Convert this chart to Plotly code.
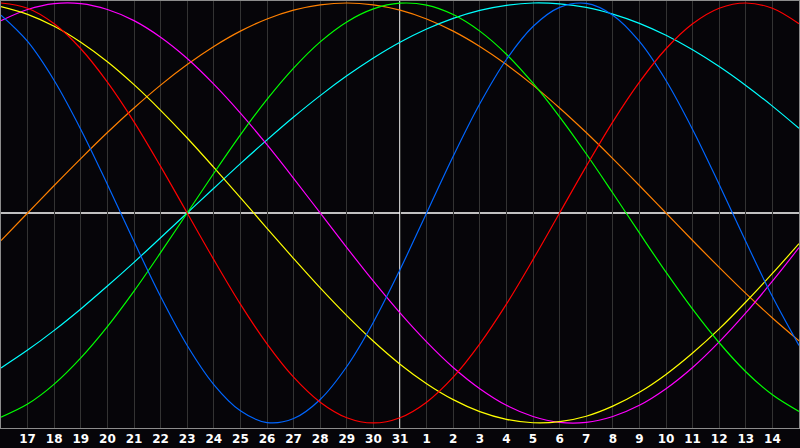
import plotly.graph_objects as go

# day index 0..30 (16th .. 15th of next month)
days = list(range(31))
tick_vals = list(range(1, 30))
tick_labels = ["17", "18", "19", "20", "21", "22", "23", "24", "25", "26", "27", "28", "29", "30", "31",
               "1", "2", "3", "4", "5", "6", "7", "8", "9", "10", "11", "12", "13", "14"]
today_index = 15

physical = [0.942, 0.817, 0.631, 0.398, 0.136, -0.136, -0.398, -0.631, -0.817, -0.942, -0.998,
            -0.979, -0.888, -0.731, -0.520, -0.270, 0.0, 0.270, 0.520, 0.731, 0.888, 0.979, 0.998,
            0.942, 0.817, 0.631, 0.398, 0.136, -0.136, -0.398, -0.631]
emotional = [1.0, 0.975, 0.901, 0.782, 0.623, 0.434, 0.222, 0.0, -0.222, -0.434, -0.623, -0.782,
             -0.901, -0.975, -1.0, -0.975, -0.901, -0.782, -0.623, -0.434, -0.222, 0.0, 0.222, 0.434,
             0.623, 0.782, 0.901, 0.975, 1.0, 0.975, 0.901]
intellectual = [-0.972, -0.910, -0.815, -0.690, -0.541, -0.372, -0.189, 0.0, 0.189, 0.372, 0.541,
                0.690, 0.815, 0.910, 0.972, 0.999, 0.990, 0.945, 0.866, 0.756, 0.618, 0.458, 0.282,
                0.095, -0.095, -0.282, -0.458, -0.618, -0.756, -0.866, -0.945]
intuitive = [0.916, 0.969, 0.997, 0.997, 0.969, 0.916, 0.837, 0.736, 0.614, 0.476, 0.325, 0.165, 0.0,
             -0.165, -0.325, -0.476, -0.614, -0.736, -0.837, -0.916, -0.969, -0.997, -0.997, -0.969,
             -0.916, -0.837, -0.736, -0.614, -0.476, -0.325, -0.165]
aesthetic = [0.983, 0.946, 0.889, 0.813, 0.720, 0.611, 0.489, 0.357, 0.217, 0.073, -0.073, -0.217,
             -0.357, -0.489, -0.611, -0.720, -0.813, -0.889, -0.946, -0.983, -0.999, -0.994, -0.968,
             -0.920, -0.854, -0.769, -0.667, -0.552, -0.424, -0.288, -0.146]
awareness = [-0.131, 0.0, 0.131, 0.259, 0.383, 0.5, 0.609, 0.707, 0.793, 0.866, 0.924, 0.966, 0.991,
             1.0, 0.991, 0.966, 0.924, 0.866, 0.793, 0.707, 0.609, 0.5, 0.383, 0.259, 0.131, 0.0,
             -0.131, -0.259, -0.383, -0.5, -0.609]
spiritual = [-0.738, -0.653, -0.559, -0.457, -0.348, -0.235, -0.118, 0.0, 0.118, 0.235, 0.348, 0.457,
             0.559, 0.653, 0.738, 0.813, 0.876, 0.927, 0.965, 0.989, 1.0, 0.996, 0.979, 0.947, 0.903,
             0.846, 0.777, 0.697, 0.607, 0.509, 0.403]

series = [
    ("Awareness", awareness, "#ff8000"),
    ("Spiritual", spiritual, "#00ffff"),
    ("Intuitive", intuitive, "#ff00ff"),
    ("Aesthetic", aesthetic, "#ffff00"),
    ("Intellectual", intellectual, "#00ff00"),
    ("Physical", physical, "#0066ff"),
    ("Emotional", emotional, "#ff0000"),
]

fig = go.Figure()
for name, vals, col in series:
    fig.add_trace(go.Scatter(x=days, y=vals, mode="lines", name=name,
                             line=dict(color=col, width=1.2, shape="spline", smoothing=1.0),
                             hoverinfo="skip"))

fig.add_shape(type="line", xref="x", yref="paper", x0=today_index, x1=today_index, y0=0, y1=1,
              line=dict(color="#ffffff", width=1.5), layer="below")
fig.add_shape(type="line", xref="paper", yref="y", x0=0, x1=1, y0=0, y1=0,
              line=dict(color="#ffffff", width=1.5), layer="below")

fig.update_layout(
    width=800, height=448,
    margin=dict(l=1, r=1, t=1, b=20),
    paper_bgcolor="#060509", plot_bgcolor="#060509",
    showlegend=False,
    font=dict(family="DejaVu Sans", color="#ffffff", size=12, weight="bold"),
    xaxis=dict(range=[0, 30], tickvals=tick_vals, ticktext=tick_labels, showgrid=True,
               gridcolor="#333333", gridwidth=1, zeroline=False, showline=True, mirror=True,
               linecolor="#8c8c8c", linewidth=1, ticks="", fixedrange=True,
               tickfont=dict(family="DejaVu Sans", color="#ffffff", size=12, weight="bold")),
    yaxis=dict(range=[-1.024, 1.0095], showgrid=False, zeroline=False, showticklabels=False,
               showline=True, mirror=True, linecolor="#8c8c8c", linewidth=1, ticks="",
               fixedrange=True),
)

fig.write_html("out.html", config={"displayModeBar": False},
               post_script="document.body.style.margin='0';document.body.style.background='#060509';")
